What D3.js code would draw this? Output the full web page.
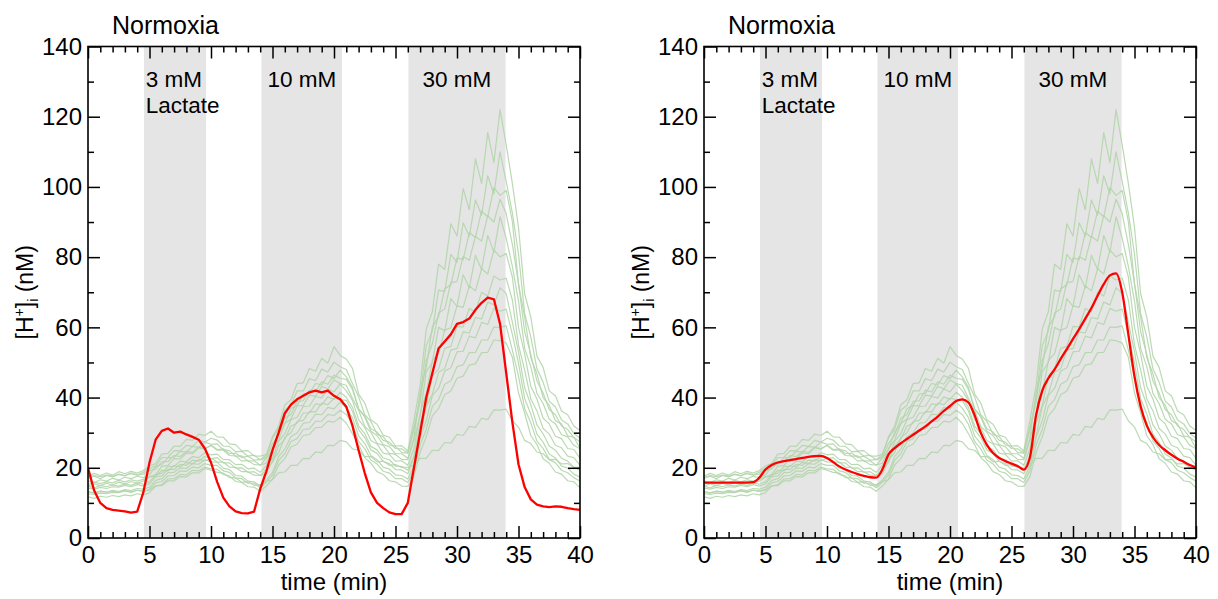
<!DOCTYPE html>
<html><head><meta charset="utf-8">
<script src="https://cdn.jsdelivr.net/npm/d3@7"></script>
<style>body{margin:0;background:#fff}text{font-family:"Liberation Sans",Arial,sans-serif;fill:#000}</style>
</head><body><svg id="chart" width="1218" height="599"></svg>
<script>
// ---------- data ----------
const xMajorTicks = [0,5,10,15,20,25,30,35,40];
const yMajorTicks = [0,20,40,60,80,100,120,140];
const xMinorTicks = d3.range(0,41,1).filter(v => v % 5 !== 0);
const yMinorTicks = [10,30,50,70,90,110,130];
const title = "Normoxia";
const xLabel = "time (min)";
const bands = [[4.55,9.6],[14.1,20.65],[26.05,33.95]];
const bandLabels = [
  {t:4.7, row:0, text:"3 mM"},
  {t:4.7, row:1, text:"Lactate"},
  {t:14.6, row:0, text:"10 mM"},
  {t:27.2, row:0, text:"30 mM"}
];
// sample times (min) for all traces, 0.5 min apart
const times = d3.range(0, 40.001, 0.5);

// individual cell traces (green)
const cellA = [17.0,17.6,16.9,17.8,17.4,18.2,17.7,18.6,18.0,18.7, 19.8,20.5,22.9,23.0,24.9,24.8,26.4,26.1,27.8,27.3,28.4, 27.9,26.2,26.1,24.6,24.7,23.3,23.6,22.3, 23.6,28.8,31.9,37.9,39.4,44.0,44.2,48.3,47.5,51.2,49.8,54.5,52.0, 51.0, 48.3,41.0,38.4,33.6,32.4,29.3,28.7,26.2,26.3,24.8, 33.5,43.5,59.5,64.5,78.0,76.5,89.5,86.0,99.5,93.5,108.0,101.0,115.5,107.0,122.0, 112.0, 101.0,88.5,69.5,63.0,51.8,48.6,41.9,40.5,36.2,35.1,31.9,30.6];
const cellB = [17.6,18.4,17.8,18.5,17.9,18.9,18.3,19.0,18.5,19.2, 20.5,21.2,23.9,24.1,26.2,26.1,28.1,27.8,29.6,29.2,30.4, 28.8,28.7,26.8,26.6,24.8,24.9,23.4,23.3, 23.8,28.5,31.1,36.4,37.8,41.9,41.9,45.4,44.8,48.1,47.3,50.1,48.8, 48.0, 44.0,40.2,35.1,33.2,29.6,28.9,26.5,26.1,24.4,24.2, 31.4,40.0,54.8,59.0,70.6,70.2,80.8,78.5,89.8,86.0,96.3,92.0,103.2,98.0,110.0, 101.5, 92.6,80.9,64.0,57.3,48.2,44.4,39.0,37.3,33.6,32.5,29.8,28.4];
const cellC = [16.3,15.8,16.6,16.2,17.0,16.5,17.3,16.9,17.6,17.2, 18.0,20.4,20.9,22.9,23.0,24.7,24.5,26.1,25.8,27.3,26.7, 26.8,25.1,24.9,23.3,23.4,21.9,22.0,20.7, 22.8,25.1,30.3,32.5,36.9,37.7,41.0,41.2,44.0,43.6,46.3,45.4,47.8, 45.9, 42.9,36.8,34.4,30.4,29.2,26.6,26.0,24.0,24.0,22.7, 28.5,41.3,48.6,60.2,63.0,71.0,72.1,79.8,79.3,87.0,85.6,93.1,91.5,99.8,97.6, 99.0, 90.2,72.4,62.9,51.4,46.8,40.0,37.8,33.4,32.5,29.1,28.7,25.6];
const cellD = [14.8,15.4,14.9,15.6,15.1,15.9,15.4,16.1,15.6,16.2, 17.4,18.1,20.4,20.7,22.6,22.5,24.2,24.0,25.7,25.3,26.4, 25.0,25.0,23.5,23.4,21.9,22.1,20.9,20.8, 21.3,25.5,27.9,32.6,33.9,37.6,37.8,40.7,40.4,43.2,42.5,45.0,44.0, 43.5, 39.8,36.4,31.8,30.1,27.0,26.4,24.1,23.8,22.4,22.3, 28.0,34.8,47.4,50.0,60.0,59.0,68.2,66.0,75.0,71.2,80.5,76.5,86.2,81.5,91.5, 85.4, 77.4,67.5,54.0,48.8,41.2,38.3,33.8,32.5,29.4,28.8,26.4,25.4];
const cellE = [14.7,14.3,15.0,14.6,15.1,14.8,15.4,15.0,15.7,15.3, 16.0,18.0,18.5,20.4,20.4,21.9,21.7,23.2,22.9,24.3,23.7, 23.9,22.4,22.3,20.9,21.0,19.7,19.9,18.7, 20.6,22.8,27.5,29.7,33.7,34.4,37.5,37.6,40.3,39.9,42.5,41.6,43.9, 41.9, 39.2,33.7,31.5,27.8,26.8,24.2,23.8,21.9,22.0,20.7, 25.4,35.5,41.2,50.6,52.5,59.2,59.9,66.1,65.7,71.8,70.4,76.7,75.2,82.0,80.1, 81.0, 74.4,60.0,52.4,43.2,39.6,34.1,32.5,29.0,28.3,25.5,25.2,22.7];
const cellF = [14.2,13.9,14.4,14.1,14.6,14.5,15.0,14.6,15.2,14.8, 15.4,17.4,17.7,19.6,19.5,21.0,20.7,22.2,21.9,23.2,22.6, 22.9,21.4,21.4,19.9,20.0,18.7,18.9,17.8, 19.5,21.6,26.2,28.1,31.9,32.7,35.6,35.6,38.2,37.9,40.2,39.5,41.5, 40.1, 37.2,31.9,29.7,26.1,25.1,22.8,22.3,20.5,20.4,19.3, 23.3,32.6,37.7,46.2,48.1,54.0,54.6,60.3,60.1,65.4,64.4,70.0,68.9,74.6,73.5, 74.0, 67.8,55.0,47.8,39.6,36.2,31.2,29.6,26.4,25.7,23.3,22.9,20.7];
const cellG = [13.2,12.8,13.4,13.1,13.6,13.2,13.8,13.5,14.1,13.9, 14.5,16.4,16.9,18.6,18.7,20.0,19.8,21.2,21.0,22.3,21.7, 21.6,19.9,19.5,17.8,17.6,16.2,16.0,14.8, 16.5,18.7,23.2,25.3,28.9,29.9,32.7,32.9,35.3,35.1,37.2,36.8,38.7, 37.0, 34.3,29.1,26.9,23.5,22.3,20.2,19.6,18.0,17.8,16.8, 20.4,28.6,33.4,40.6,42.6,47.5,48.5,53.0,53.2,57.5,57.0,61.4,60.8,65.4,64.6, 65.2, 58.0,49.8,39.7,35.3,29.6,27.3,23.9,22.8,20.5,19.9,18.2,17.3];
const cellH = [12.6,12.4,12.8,12.6,13.0,12.9,13.4,13.0,13.6,13.3, 13.9,15.7,16.1,17.7,17.8,19.1,19.0,20.2,20.0,21.2,20.7, 20.7,19.1,18.7,17.1,16.9,15.6,15.6,14.3, 15.9,17.9,22.1,24.0,27.5,28.3,30.9,31.1,33.2,33.3,35.2,34.9,36.4, 35.2, 32.4,27.5,25.4,22.2,21.1,19.0,18.5,16.9,16.9,15.8, 19.1,26.5,31.0,37.5,39.4,43.8,44.8,48.8,49.3,52.8,52.9,56.4,56.4,60.1,60.0, 60.4, 53.5,46.1,36.9,32.8,27.6,25.5,22.4,21.4,19.3,18.6,17.2,16.2];
const cellI = [11.7,11.3,11.9,11.6,12.1,11.8,12.3,12.0,12.6,12.3, 12.9,14.8,15.2,16.8,16.9,18.1,18.0,19.3,19.1,20.2,19.7, 19.6,18.1,17.7,16.1,15.8,14.6,14.5,13.3, 14.8,16.8,20.8,22.6,25.9,26.7,29.2,29.5,31.4,31.6,33.3,33.0,34.4, 32.7, 29.7,26.6,22.9,21.3,18.9,18.1,16.3,16.0,14.8,14.7, 17.5,24.4,28.8,34.8,36.9,40.8,41.9,45.5,46.1,49.3,49.6,52.8,52.9,56.4,56.2, 55.5, 51.5,41.3,35.6,29.2,26.6,22.6,21.3,18.8,18.2,16.3,16.0,14.3];
const cellJ = [13.1,12.9,13.2,13.0,13.3,13.1,13.5,13.1,13.6,13.4, 13.6,14.9,14.9,16.3,16.3,17.5,17.4,18.6,18.5,19.8,19.3, 18.7,18.5,17.2,17.1,15.9,16.0,15.0,15.2, 16.1,16.6,18.6,18.8,20.7,20.7,22.7,22.6,24.5,24.3,26.4,26.3,27.8, 27.4, 25.4,25.0,23.2,23.2,21.7,21.9,20.7,20.9,20.1,20.2, 20.6,22.7,22.7,25.0,24.9,27.2,27.0,29.5,29.2,31.8,31.5,34.1,33.7,36.5,36.4, 36.7, 33.4,31.6,27.8,26.9,24.5,24.0,22.3,22.4,21.1,21.2,20.1,20.2];
const cellK = [17.3,17.8,17.5,17.9,17.6,18.1,17.8,18.3,17.9,18.2, 19.2,19.6,21.7,21.8,23.5,23.2,24.7,24.4,25.9,25.4,26.4, 25.2,25.4,24.0,24.2,22.9,23.3,22.2,22.3, 22.9,26.9,29.3,34.1,35.2,38.9,39.1,42.1,41.6,44.5,43.8,46.4,45.5, 45.2, 42.3,36.8,34.8,31.1,30.2,27.8,27.3,25.5,25.4,24.2, 31.0,38.7,50.5,55.4,64.1,65.2,72.8,73.0,80.2,79.1,85.9,84.6,91.8,90.0,96.5, 92.4, 83.6,72.5,58.8,52.3,44.7,41.3,36.6,35.1,31.9,30.9,28.6,27.4];
const cellL = [15.3,15.9,15.5,16.0,15.7,16.4,16.0,16.6,16.2,16.7, 17.4,17.6,19.3,19.1,20.6,20.3,21.5,21.2,22.3,22.0,22.7, 21.7,21.6,20.2,20.1,18.9,18.9,17.9,17.8, 18.3,22.1,24.3,28.7,30.0,33.2,33.5,36.0,35.9,38.4,38.0,39.8,39.4, 39.2, 36.1,30.9,28.6,25.1,24.1,21.8,21.2,19.5,19.4,18.3, 23.0,29.0,37.4,41.0,47.2,48.2,53.5,54.0,58.7,58.4,62.8,62.4,67.2,66.4,71.3, 69.6, 61.5,53.0,42.8,38.0,32.2,29.7,26.2,25.0,22.7,21.9,20.2,19.2];
const cells = [cellA,cellB,cellC,cellD,cellE,cellF,cellG,cellH,cellI,cellJ,cellK,cellL];

// red traces
const redLeft = [20,13.5,10,8.5,8,7.8,7.6,7.2,7.5,13, 21.5,28,30.5,31.2,30,30.3,29.5,28.8,28,25.5,21.5, 16,11.5,9,7.6,7.1,7.0,7.5,14, 19,25,30,35.5,38,39.5,40.5,41.5,42,41.5,42,40.5,39.5, 37.4, 32,25,18.5,13,10,8.5,7.3,6.8,6.8,10, 20,30,40,47,54,56,58,61,61.5,62.5,65,67,68.5,68,61, 47, 33,21,14.5,11,9.5,9,8.8,9,8.9,8.5,8.2,8];
const redRight = [15.8,15.8,15.8,15.8,15.8,15.8,15.8,15.8,15.9,17.2, 19.5,20.8,21.5,21.9,22.2,22.5,22.8,23.1,23.3,23.4,22.8, 21.6,20.4,19.5,18.8,18.2,17.7,17.3,17.2, 19.5,23.8,25.6,27,28.2,29.4,30.6,31.8,33.2,34.6,36.2,37.6,39, 39.5, 38.6,35,30,26.5,24.2,22.8,21.9,21.2,20.5,19.5, 23,35,42,45.5,48,51,53.8,56.7,59.5,62.5,65.5,69,72.3,74.8,75.4, 70, 58,46,37.5,32,28.7,26.5,25,23.7,22.6,21.7,20.8,20.1];

// ---------- drawing ----------
const svg = d3.select("#chart");
const plotTop = 46.5, plotBottom = 538, plotW = 492;
const panels = [{x0:88, red:redLeft, curve:d3.curveLinear, id:"L"},
                {x0:704, red:redRight, curve:d3.curveMonotoneX, id:"R"}];

panels.forEach(p => {
  const x = d3.scaleLinear().domain([0,40]).range([p.x0, p.x0 + plotW]);
  const y = d3.scaleLinear().domain([0,140]).range([plotBottom, plotTop]);
  const g = svg.append("g");

  g.append("clipPath").attr("id","clip"+p.id).append("rect")
    .attr("x", x(0)).attr("y", y(140)).attr("width", x(40)-x(0)).attr("height", y(0)-y(140));

  g.selectAll("rect.band").data(bands).join("rect").attr("class","band")
    .attr("x", d => x(d[0])).attr("width", d => x(d[1]) - x(d[0]))
    .attr("y", y(140)).attr("height", y(0) - y(140)).attr("fill", "#e5e5e5");

  const line = d3.line().x((d,i) => x(times[i])).y(d => y(d));
  const lg = g.append("g").attr("clip-path", `url(#clip${p.id})`);
  lg.selectAll("path.cell").data(cells).join("path").attr("class","cell")
    .attr("d", d => line(d)).attr("fill","none")
    .attr("stroke","#b2d5ab").attr("stroke-width",1.2).attr("stroke-opacity",0.9)
    .attr("stroke-linejoin","round");
  lg.append("path").attr("d", line.curve(p.curve)(p.red)).attr("fill","none")
    .attr("stroke","#ff0000").attr("stroke-width",2.3).attr("stroke-linejoin","round");

  g.selectAll("text.bl").data(bandLabels).join("text").attr("class","bl")
    .attr("x", d => x(d.t)).attr("y", d => 87 + d.row * 26)
    .attr("font-size", 22.5).text(d => d.text);

  const axes = [
    {a:d3.axisBottom(x).tickValues(xMajorTicks).tickSize(-12).tickPadding(8).tickFormat(d3.format("d")), tr:`translate(0,${plotBottom})`},
    {a:d3.axisBottom(x).tickValues(xMinorTicks).tickSize(-6).tickFormat(""), tr:`translate(0,${plotBottom})`},
    {a:d3.axisTop(x).tickValues(xMajorTicks).tickSize(-12).tickFormat(""), tr:`translate(0,${plotTop})`},
    {a:d3.axisTop(x).tickValues(xMinorTicks).tickSize(-6).tickFormat(""), tr:`translate(0,${plotTop})`},
    {a:d3.axisLeft(y).tickValues(yMajorTicks).tickSize(-12).tickPadding(6).tickFormat(d3.format("d")), tr:`translate(${x(0)},0)`},
    {a:d3.axisLeft(y).tickValues(yMinorTicks).tickSize(-6).tickFormat(""), tr:`translate(${x(0)},0)`},
    {a:d3.axisRight(y).tickValues(yMajorTicks).tickSize(-12).tickFormat(""), tr:`translate(${x(40)},0)`},
    {a:d3.axisRight(y).tickValues(yMinorTicks).tickSize(-6).tickFormat(""), tr:`translate(${x(40)},0)`}
  ];
  axes.forEach(ax => {
    const ag = g.append("g").attr("transform", ax.tr).call(ax.a.tickSizeOuter(0));
    ag.select(".domain").remove();
    ag.selectAll(".tick line").attr("stroke","#000").attr("stroke-width",1.5);
    ag.selectAll(".tick text").attr("font-size", 24).attr("fill","#000")
      .attr("font-family", '"Liberation Sans",Arial,sans-serif');
  });
  g.append("rect").attr("x", x(0)).attr("y", y(140)).attr("width", x(40)-x(0)).attr("height", y(0)-y(140))
    .attr("fill","none").attr("stroke","#000").attr("stroke-width",1.6);

  g.append("text").attr("x", p.x0 + 24).attr("y", 34).attr("font-size", 25).text(title);
  g.append("text").attr("x", x(20)).attr("y", 590).attr("text-anchor","middle").attr("font-size", 24).text(xLabel);
  const yl = g.append("text").attr("transform", `translate(${p.x0 - 55},${(plotTop+plotBottom)/2}) rotate(-90)`)
    .attr("text-anchor","middle").attr("font-size", 23);
  yl.append("tspan").text("[H");
  yl.append("tspan").attr("font-size", 14).attr("dy", -9).text("+");
  yl.append("tspan").attr("dy", 9).text("]");
  yl.append("tspan").attr("font-size", 14).attr("dy", 5).text("i");
  yl.append("tspan").attr("dy", -5).text(" (nM)");
});
</script></body></html>
